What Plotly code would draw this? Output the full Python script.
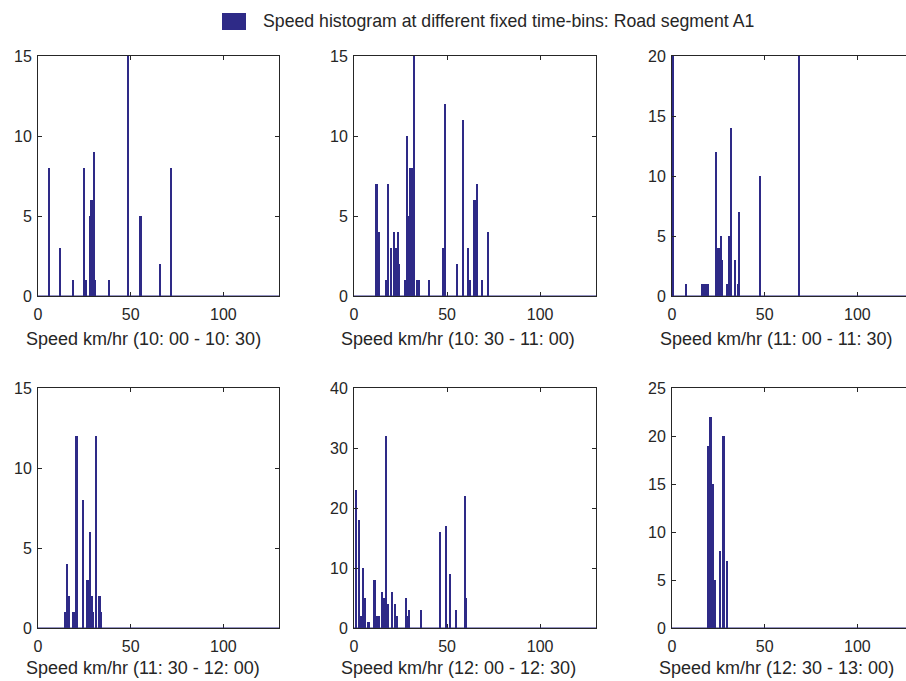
import plotly.graph_objects as go

# ---- data ----
speed_1 = [6, 12, 19, 25, 26, 28.2, 29, 30.4, 31, 38.3, 48.5, 55.4, 65.8, 71.8]
count_1 = [8, 3, 1, 8, 1, 5, 6, 9, 1, 1, 15, 5, 2, 8]

speed_2 = [12.2, 13.6, 17.6, 18.6, 20.1, 21.7, 22.4, 23, 23.7, 24.2, 27.6, 28.5, 29.6,
           30.5, 31.2, 32.3, 34, 35.1, 40.5, 48, 49, 55.4, 58.5, 61.5, 62.4, 64.9, 66.3, 69, 72.1]
count_2 = [7, 4, 1, 7, 3, 4, 3, 1, 4, 2, 1, 10, 5,
           8, 8, 15, 1, 1, 1, 3, 12, 2, 11, 3, 1, 6, 7, 1, 4]

speed_3 = [0.5, 7.9, 16.6, 17.3, 18.4, 19.5, 24, 24.7, 25.2, 25.8, 26.5, 27, 30.1, 30.8,
           31.9, 33.9, 35.7, 36.4, 47.6, 68.5]
count_3 = [20, 1, 1, 1, 1, 1, 12, 4, 4, 1, 5, 3, 1, 5,
           14, 3, 1, 7, 10, 20]

speed_4 = [14.7, 15.8, 16.9, 19.2, 20, 20.9, 24.6, 26.6, 27.5, 28.4, 29.1, 30, 31.3, 33.3, 34.2]
count_4 = [1, 4, 2, 1, 1, 12, 8, 3, 3, 6, 2, 1, 12, 2, 1]

speed_5 = [1.3, 2.7, 3.9, 5, 6.1, 7.9, 11.1, 12.2, 13.6, 15.1, 16, 17.2, 18.1, 20.6, 22.3,
           23.3, 28.2, 28.9, 29.8, 36.3, 46.5, 49.6, 51.5, 55.1, 59.6, 60.5]
count_5 = [23, 18, 2, 10, 5, 1, 8, 2, 2, 6, 5, 32, 4, 6, 4,
           2, 5, 2, 3, 3, 16, 17, 9, 3, 22, 5]

speed_6 = [19.5, 20.9, 22, 23.4, 26.1, 27.9, 29.9]
count_6 = [19, 22, 15, 5, 8, 20, 7]

speeds = [speed_1, speed_2, speed_3, speed_4, speed_5, speed_6]
counts = [count_1, count_2, count_3, count_4, count_5, count_6]
time_bins = ["10: 00 - 10: 30", "10: 30 - 11: 00", "11: 00 - 11: 30",
             "11: 30 - 12: 00", "12: 00 - 12: 30", "12: 30 - 13: 00"]
y_max = [15, 15, 20, 15, 40, 25]
y_step = [5, 5, 5, 5, 10, 5]
x_ticks = [0, 50, 100]
legend_text = "Speed histogram at different fixed time-bins: Road segment A1"

# ---- style ----
W, H = 906, 681
BAR = "#2e2a87"
AX = "#262626"
FONT = "Liberation Sans, Arial, Helvetica, sans-serif"

# pixel geometry of the panels
col_px = [(38, 279), (354, 596), (672, 913)]
row_px = [(56, 296), (388, 628)]
title_cx = [143, 458, 776]
title_cy = [339, 668]

fig = go.Figure()
for i in range(6):
    r, c = divmod(i, 3)
    ax = "" if i == 0 else str(i + 1)
    x0, x1 = col_px[c]
    y0, y1 = row_px[r]
    xr = 130.0
    x1c = min(x1, W)
    xmax = xr * (x1c - x0) / (x1 - x0)
    fig.add_trace(go.Bar(
        x=speeds[i], y=counts[i], width=0.9,
        marker=dict(color=BAR, line=dict(width=0)),
        xaxis="x" + ax, yaxis="y" + ax, showlegend=False,
    ))
    cut = x1 > W
    fig.layout["xaxis" + ax] = dict(
        domain=[x0 / W, x1c / W], anchor="y" + ax, range=[0, xmax],
        tickvals=x_ticks, ticks="inside", ticklen=4, tickcolor=AX,
        showline=True, linecolor=AX, linewidth=1, automargin=False,
        mirror="allticks", showgrid=False, zeroline=False, ticklabelstandoff=4,
        tickfont=dict(family=FONT, size=16, color=AX),
    )
    fig.layout["yaxis" + ax] = dict(
        domain=[1 - y1 / H, 1 - y0 / H], anchor="x" + ax, range=[0, y_max[i]],
        dtick=y_step[i], tick0=0, ticks="inside", ticklen=4, tickcolor=AX,
        showline=True, linecolor=AX, linewidth=1, automargin=False,
        mirror=False if cut else "allticks", showgrid=False, zeroline=False,
        ticklabelstandoff=2,
        tickfont=dict(family=FONT, size=16, color=AX),
    )
    # bar baseline
    fig.add_shape(type="line", xref="x" + ax + " domain", yref="y" + ax,
                  x0=0, x1=1, y0=0, y1=0, line=dict(color=BAR, width=1.2), layer="above")
    fig.add_annotation(
        text="Speed km/hr (" + time_bins[i] + ")", xref="paper", yref="paper",
        x=title_cx[c] / W, y=1 - title_cy[r] / H, xanchor="center", yanchor="middle",
        showarrow=False, font=dict(family=FONT, size=18, color=AX),
    )

# legend drawn as a patch + label
fig.add_shape(type="rect", xref="paper", yref="paper",
              x0=222 / W, x1=246 / W, y0=1 - 30 / H, y1=1 - 13 / H,
              fillcolor=BAR, line=dict(width=0))
fig.add_annotation(text=legend_text, xref="paper", yref="paper",
                   x=261 / W, y=1 - 21 / H, xanchor="left", yanchor="middle",
                   showarrow=False, font=dict(family=FONT, size=17.7, color=AX))

fig.update_layout(
    width=W, height=H, margin=dict(l=0, r=0, t=0, b=0, pad=0),
    paper_bgcolor="white", plot_bgcolor="white", bargap=0, showlegend=False,
)
fig.write_html("out.html")
